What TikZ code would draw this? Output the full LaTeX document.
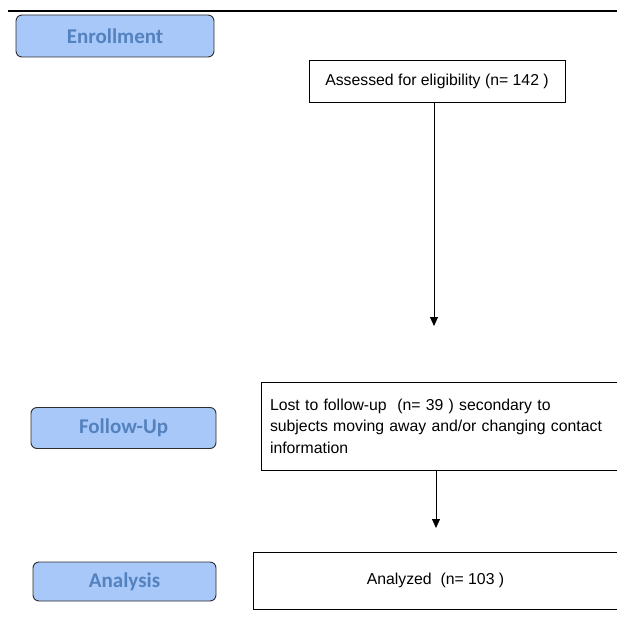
\documentclass[tikz,border=0pt]{standalone}
\usepackage{fontspec}
\usepackage{tikz}
\usetikzlibrary{arrows.meta}
\usepackage{xcolor}
\newfontfamily\boxfont{Liberation Sans}
\newfontfamily\phasefont{Carlito}
\definecolor{phasefill}{RGB}{168,200,250}
\definecolor{phasetext}{RGB}{84,130,190}
\definecolor{phaseline}{RGB}{45,45,45}

\begin{document}
\begin{tikzpicture}[
    x=1pt, y=-1pt,
    phase/.style={rectangle, rounded corners=6pt, draw=phaseline, line width=0.9pt, fill=phasefill, text=phasetext, font=\phasefont\bfseries\fontsize{21}{24}\selectfont},
    flowbox/.style={rectangle, draw, line width=0.8pt, font=\boxfont\fontsize{15.8}{21.5}\selectfont},
    >={Triangle[length=9pt,width=8pt]}
]
    \clip (0,0) rectangle (617,634);
    \draw[line width=1.8pt] (8,11) -- (640,11);
    \node[phase, minimum width=198pt, minimum height=42pt] (enroll) at (115,36) {Enrollment};
    \node[phase, minimum width=185pt, minimum height=41pt] (follow) at (123.5,428) {Follow-Up};
    \node[phase, minimum width=183pt, minimum height=39pt] (analysis) at (124.5,581.5) {Analysis};
    \node[flowbox, minimum width=256pt, minimum height=42pt] (assess) at (437,81) {Assessed for eligibility (n= 142 )};
    \node[flowbox, minimum width=364pt, minimum height=88pt, text width=346pt, inner xsep=9pt, align=left] (lost) at (443,426)
        {Lost to follow-up\ \ (n= 39 ) secondary to\\subjects moving away and/or changing contact\\information};
    \node[flowbox, minimum width=365pt, minimum height=57pt] (analyzed) at (435.5,580.5) {Analyzed\ \ (n= 103 )};
    \coordinate (tip1) at (434,326);
    \coordinate (tip2) at (436,528);
    \draw[->, line width=0.8pt] (tip1 |- assess.south) -- (tip1);
    \draw[->, line width=0.8pt] (tip2 |- lost.south) -- (tip2);
\end{tikzpicture}
\end{document}
